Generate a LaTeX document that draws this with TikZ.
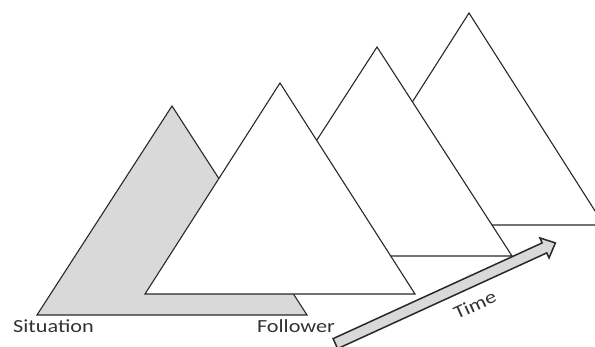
\documentclass[tikz,border=0pt]{standalone}
\usepackage{fontspec}
\usepackage{tikz}
\usetikzlibrary{calc}
\newfontfamily\labelfont{Carlito}
\definecolor{mydark}{RGB}{40,40,40}
\definecolor{mygray}{RGB}{217,217,217}
\definecolor{mytext}{RGB}{50,50,50}
\tikzset{
  pyramid/.style={draw=mydark, fill=white, line width=1.1pt, line join=miter},
  graypyramid/.style={pyramid, fill=mygray},
  timearrow/.style={draw=mydark, fill=mygray, line width=1.5pt, line join=miter},
  lbl/.style={font=\labelfont\fontsize{18.5}{20}\selectfont, text=mytext,
    inner sep=0pt, xscale=1.2}
}
\begin{document}
\begin{tikzpicture}[x=1pt, y=1pt]
  \useasboundingbox (0,0) rectangle (595,347);
  \clip (0,0) rectangle (595,347);

  % Back pyramids (later in time)
  \draw[pyramid] (469,334) -- (334,122) -- (604,122) -- cycle;
  \draw[pyramid] (377,300) -- (242,91) -- (512,91) -- cycle;

  % Situation pyramid (shaded)
  \draw[graypyramid] (172,241) -- (37,32) -- (307,32) -- cycle;

  % Follower pyramid (front)
  \draw[pyramid] (280,264) -- (145,53) -- (415,53) -- cycle;

  % Time arrow
  \begin{scope}[shift={(339,5)}, rotate=24.6]
    \draw[timearrow] (-4,-5.5) -- (226,-5.5) -- (226,-11) -- (238,0)
      -- (226,11) -- (226,5.5) -- (-4,5.5) -- cycle;
    \node[lbl, transform shape, anchor=north] (time) at (139,-16) {Time};
  \end{scope}

  % Labels
  \node[lbl, anchor=base] (situation) at (53.5,14) {Situation};
  \node[lbl, anchor=base] (follower) at (296,14) {Follower};
\end{tikzpicture}
\end{document}
